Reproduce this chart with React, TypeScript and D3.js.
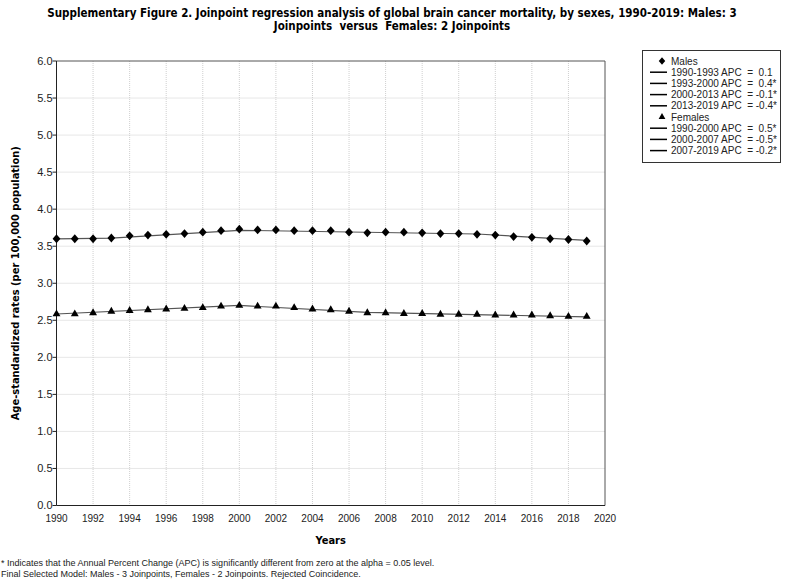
import React, { useEffect, useRef } from "react";
import * as d3 from "d3";

// observed rates per 100,000
const years = d3.range(1990, 2020);
const malesObserved = [
  3.60, 3.60, 3.60, 3.61, 3.64, 3.65, 3.66, 3.67, 3.69, 3.71,
  3.73, 3.72, 3.72, 3.71, 3.71, 3.71, 3.69, 3.68, 3.69, 3.69,
  3.68, 3.67, 3.67, 3.66, 3.65, 3.63, 3.62, 3.60, 3.59, 3.57,
];
const femalesObserved = [
  2.585, 2.585, 2.60, 2.62, 2.63, 2.64, 2.65, 2.66, 2.67, 2.69,
  2.70, 2.69, 2.69, 2.67, 2.65, 2.64, 2.62, 2.60, 2.60, 2.59,
  2.59, 2.58, 2.58, 2.58, 2.57, 2.57, 2.57, 2.56, 2.55, 2.55,
];

// fitted joinpoint model
const malesJoinYears = [1990, 1993, 2000, 2013, 2019];
const malesFit = [3.60, 3.61, 3.715, 3.665, 3.578];
const femalesJoinYears = [1990, 2000, 2007, 2019];
const femalesFit = [2.585, 2.70, 2.607, 2.546];

const xTicks = d3.range(1990, 2021, 2);
const yTicks = d3.range(0, 6.01, 0.5);

const malesLegend = [
  "1990-1993 APC  =  0.1",
  "1993-2000 APC  =  0.4*",
  "2000-2013 APC  = -0.1*",
  "2013-2019 APC  = -0.4*",
];
const femalesLegend = [
  "1990-2000 APC  =  0.5*",
  "2000-2007 APC  = -0.5*",
  "2007-2019 APC  = -0.2*",
];

const titleLines = [
  "Supplementary Figure 2. Joinpoint regression analysis of global brain cancer mortality, by sexes, 1990-2019: Males: 3",
  "Joinpoints  versus  Females: 2 Joinpoints",
];
const footnotes = [
  "* Indicates that the Annual Percent Change (APC) is significantly different from zero at the alpha = 0.05 level.",
  "Final Selected Model: Males - 3 Joinpoints, Females - 2 Joinpoints. Rejected Coincidence.",
];

const boldFont = "'DejaVu Sans Condensed', 'DejaVu Sans', sans-serif";
const narrowFont = "'Liberation Sans Narrow', 'Liberation Sans', Arial, sans-serif";

// wider-than-tall diamond like the original
const diamond = {
  draw(ctx: any, size: number) {
    const h = Math.sqrt(size) * 0.72;
    const w = h * 0.88;
    ctx.moveTo(0, -h);
    ctx.lineTo(w, 0);
    ctx.lineTo(0, h);
    ctx.lineTo(-w, 0);
    ctx.closePath();
  },
};

const App = () => {
  const ref = useRef<SVGSVGElement>(null);

  useEffect(() => {
    const svg = d3.select(ref.current);
    svg.selectAll("*").remove();

    const x = d3.scaleLinear().domain([1990, 2020]).range([56.5, 605]);
    const y = d3.scaleLinear().domain([0, 6]).range([505.5, 61]);

    // title
    svg.append("g")
      .selectAll("text")
      .data(titleLines)
      .join("text")
      .attr("x", 392)
      .attr("y", (d, i) => 17 + i * 13)
      .attr("text-anchor", "middle")
      .style("font-family", boldFont)
      .style("font-weight", "bold")
      .style("font-size", "11.5px")
      .style("white-space", "pre")
      .text((d) => d);

    // grid
    const grid = svg.append("g")
      .attr("stroke", "#cfcfcf")
      .attr("stroke-dasharray", "1,1");
    grid.selectAll(".gx")
      .data(xTicks.slice(1, -1))
      .join("line")
      .attr("x1", (d) => x(d)).attr("x2", (d) => x(d))
      .attr("y1", y(6)).attr("y2", y(0));
    grid.selectAll(".gy")
      .data(yTicks.slice(1, -1))
      .join("line")
      .attr("x1", x(1990)).attr("x2", x(2020))
      .attr("y1", (d) => y(d)).attr("y2", (d) => y(d));

    // frame
    svg.append("path")
      .attr("d", `M${x(1990)},${y(6)}H${x(2020)}V${y(0)}`)
      .attr("fill", "none")
      .attr("stroke", "#555");
    svg.append("path")
      .attr("d", `M${x(1990)},${y(6)}V${y(0)}H${x(2020)}`)
      .attr("fill", "none")
      .attr("stroke", "#222");

    // y ticks and labels
    svg.append("g")
      .selectAll("line")
      .data(yTicks)
      .join("line")
      .attr("x1", x(1990) - 4).attr("x2", x(1990))
      .attr("y1", (d) => y(d)).attr("y2", (d) => y(d))
      .attr("stroke", "#222");
    svg.append("g")
      .selectAll("text")
      .data(yTicks)
      .join("text")
      .attr("x", x(1990) - 4)
      .attr("y", (d) => y(d) + 3.5)
      .attr("text-anchor", "end")
      .style("font-family", narrowFont)
      .style("font-size", "11px")
      .attr("fill", "#222")
      .text((d) => d.toFixed(1));

    // x labels
    svg.append("g")
      .selectAll("text")
      .data(xTicks)
      .join("text")
      .attr("x", (d) => x(d))
      .attr("y", 522)
      .attr("text-anchor", "middle")
      .style("font-family", narrowFont)
      .style("font-size", "10px")
      .attr("fill", "#222")
      .text((d) => d);

    svg.append("text")
      .attr("x", x(2005))
      .attr("y", 544)
      .attr("text-anchor", "middle")
      .style("font-family", boldFont)
      .style("font-weight", "bold")
      .style("font-size", "11px")
      .text("Years");

    svg.append("text")
      .attr("transform", `translate(19,${(y(0) + y(6)) / 2}) rotate(-90)`)
      .attr("text-anchor", "middle")
      .style("font-family", boldFont)
      .style("font-weight", "bold")
      .style("font-size", "11px")
      .text("Age-standardized rates (per 100,000 population)");

    // fitted lines
    const line = d3.line<[number, number]>()
      .x((d) => x(d[0]))
      .y((d) => y(d[1]));
    svg.append("path")
      .attr("d", line(malesJoinYears.map((yr, i) => [yr, malesFit[i]] as [number, number])))
      .attr("fill", "none")
      .attr("stroke", "#555")
      .attr("stroke-width", 1.2);
    svg.append("path")
      .attr("d", line(femalesJoinYears.map((yr, i) => [yr, femalesFit[i]] as [number, number])))
      .attr("fill", "none")
      .attr("stroke", "#555")
      .attr("stroke-width", 1.2);

    // observed markers
    svg.append("g")
      .selectAll("path")
      .data(malesObserved)
      .join("path")
      .attr("transform", (d, i) => `translate(${x(years[i])},${y(d)})`)
      .attr("d", d3.symbol(diamond as any, 38)())
      .attr("fill", "#000");
    svg.append("g")
      .selectAll("path")
      .data(femalesObserved)
      .join("path")
      .attr("transform", (d, i) => `translate(${x(years[i])},${y(d)})`)
      .attr("d", d3.symbol(d3.symbolTriangle, 27)())
      .attr("fill", "#000");

    // legend
    const lg = svg.append("g");
    lg.append("rect")
      .attr("x", 642.5).attr("y", 50.5)
      .attr("width", 138).attr("height", 112)
      .attr("fill", "#fff")
      .attr("stroke", "#333");
    const rows: { kind: string; label: string }[] = [
      { kind: "diamond", label: "Males" },
      ...malesLegend.map((l) => ({ kind: "line", label: l })),
      { kind: "triangle", label: "Females" },
      ...femalesLegend.map((l) => ({ kind: "line", label: l })),
    ];
    rows.forEach((r, i) => {
      const cy = 61 + i * 11.2;
      if (r.kind === "line") {
        lg.append("line")
          .attr("x1", 650).attr("x2", 667)
          .attr("y1", cy).attr("y2", cy)
          .attr("stroke", "#000")
          .attr("stroke-width", 1.5);
      } else {
        lg.append("path")
          .attr("transform", `translate(662,${cy})`)
          .attr("d", r.kind === "diamond"
            ? d3.symbol(diamond as any, 26)()
            : d3.symbol(d3.symbolTriangle, 20)())
          .attr("fill", "#000");
      }
      lg.append("text")
        .attr("x", 671)
        .attr("y", cy + 3.5)
        .style("font-family", narrowFont)
        .style("font-size", "10px")
        .style("white-space", "pre")
        .attr("fill", "#222")
        .text(r.label);
    });

    // footnotes
    svg.append("g")
      .selectAll("text")
      .data(footnotes)
      .join("text")
      .attr("x", 1)
      .attr("y", (d, i) => 566 + i * 10.5)
      .style("font-family", narrowFont)
      .style("font-size", "9px")
      .attr("fill", "#222")
      .text((d) => d);
  }, []);

  return (
    <svg
      ref={ref}
      width={787}
      height={585}
      style={{ position: "absolute", left: 0, top: 0, background: "#fff" }}
    />
  );
};

export default App;
